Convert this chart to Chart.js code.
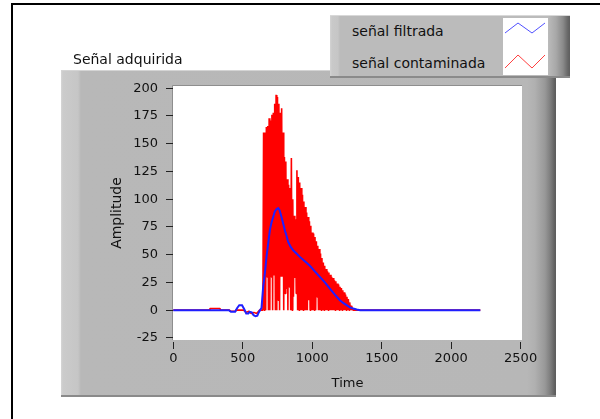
<!DOCTYPE html>
<html>
<head>
<meta charset="utf-8">
<script src="https://cdn.jsdelivr.net/npm/chart.js@4.4.1/dist/chart.umd.min.js"></script>
<style>
  html, body { margin: 0; padding: 0; background: #fff; }
  #wrap { position: relative; width: 600px; height: 419px; overflow: hidden; background: #fff; font-family: 'DejaVu Sans', sans-serif; }
  #frame { position: absolute; left: 11px; top: 3px; width: 700px; height: 500px; border-left: 2px solid #000; border-top: 2px solid #000; }
  #panel { position: absolute; left: 61px; top: 70px; width: 495px; height: 327px;
    background: linear-gradient(to right, #d6d6d6 0px, #cbcbcb 2px, #c6c6c6 17px, #b8b8b8 20px, #b7b7b7 466px, #b0b0b0 474px, #989898 484px, #7a7a7a 490px, #5e5e5e 494px, #5e5e5e 495px);
    box-shadow: inset 0 1px 0 #d4d4d4, inset 0 -2px 0 #8a8a8a; }
  #chart { position: absolute; left: 0; top: 0; }
  #title { position: absolute; left: 73px; top: 51px; font-size: 14px; line-height: 16px; color: #111; white-space: nowrap; }
  #legend { position: absolute; left: 330px; top: 15px; width: 240px; height: 63px;
    background: linear-gradient(to right, #d4d4d4 0px, #c9c9c9 2px, #c6c6c6 8px, #bbbbbb 10px, #bbbbbb 218px, #a8a8a8 226px, #8a8a8a 233px, #666 238px, #5e5e5e 240px);
    box-shadow: inset 0 1px 0 #d8d8d8, inset 0 -2px 0 #8a8a8a; }
  .lg { position: absolute; left: 22px; font-size: 14px; line-height: 16px; color: #111; white-space: nowrap; }
  #swatch { position: absolute; left: 173px; top: 3px; width: 45px; height: 57px; background: #fff; }
</style>
</head>
<body>
<div id="wrap">
  <div id="frame"></div>
  <div id="panel"></div>
  <canvas id="chart" width="600" height="419"></canvas>
  <div id="title">Señal adquirida</div>
  <div id="legend">
    <div id="lg0" class="lg" style="top:8px"></div>
    <div id="lg1" class="lg" style="top:40px"></div>
    <div id="swatch">
      <svg width="45" height="57" viewBox="0 0 45 57">
        <polyline id="sw0" fill="none" stroke-width="1" points="2,15 15,5 29,15 42,5"/>
        <polyline id="sw1" fill="none" stroke-width="1" points="2,50 15,37 29,50 42,37"/>
      </svg>
    </div>
  </div>
</div>
<script>
// ---- data ----
const seriesNames = ['señal filtrada', 'señal contaminada'];
const seriesColors = ['#1f1fff', '#ff0000'];
const swatchColors = ['#5050ff', '#ff4040'];

const xTicks = [0, 500, 1000, 1500, 2000, 2500];
const yTicks = [-25, 0, 25, 50, 75, 100, 125, 150, 175, 200];

// filtered signal (blue)
const filteredTime = [0, 400, 415, 445, 460, 475, 495, 510, 525, 540,
  550, 565, 578, 592, 605, 615, 625, 635, 647, 659,
  671, 683, 695, 707, 719, 731, 743, 755, 765, 779,
  791, 803, 815, 827, 845, 863, 887, 911, 947, 983,
  1019, 1055, 1091, 1127, 1163, 1199, 1223, 1247, 1271, 1295,
  1320, 1345, 2210];
const filteredAmp = [0, 0, -1.5, -1.5, 2, 4.5, 4.5, 1, -3, -3,
  -1.5, -2, -4.5, -5.5, -5, -2, 0, 2, 21, 33,
  48, 60, 72, 79, 84, 89, 91, 92, 90, 84,
  78, 72, 67, 61.5, 57, 54, 51, 48, 44, 40,
  35, 30, 25, 19.5, 14, 9, 6.5, 4.5, 2.5, 1.5,
  0.6, 0, 0];

// contaminated signal (red): dense oscillation between the upper and lower envelope
const noisyTime = [0, 260, 264, 336, 340, 405, 410, 445, 450, 505, 525, 545, 560, 580, 600, 620, 645,
  650, 655, 660, 665, 670, 675, 680, 685, 690, 695, 700, 705, 710, 715, 720, 725, 730, 735, 740, 745,
  750, 755, 760, 765, 770, 775, 780, 785, 790, 795, 800, 805, 810, 815, 820, 825, 830, 835, 840, 845,
  850, 855, 860, 865, 870, 875, 880, 885, 890, 895, 900, 905, 910, 915, 920, 925, 930, 935, 940, 945,
  950, 955, 960, 965, 970, 975, 980, 985, 990, 995, 1000, 1005, 1010, 1015, 1020, 1025, 1030, 1035, 1040, 1045,
  1050, 1055, 1060, 1065, 1070, 1075, 1080, 1085, 1090, 1095, 1100, 1105, 1110, 1115, 1120, 1125, 1130, 1135, 1140, 1145,
  1150, 1155, 1160, 1165, 1170, 1175, 1180, 1185, 1190, 1195, 1200, 1205, 1210, 1215, 1220, 1225, 1230, 1235, 1240, 1245,
  1250, 1255, 1260, 1265, 1270, 1275, 1280, 1285, 1290, 1295,
  1300, 2210];
const noisyAmp = [0, 0, 1.5, 1.5, 0, 0, -1, -1, 0, 0, -2, -1, -3, -2, -3, 0, 0,
  160, 0, 160, 0, 165, 30, 166, 0, 173, 0, 171, 30, 176, 0, 178, 32, 186, 0, 194, 0,
  192, 9, 186, 0, 178, 30, 182, 30, 160, 0, 138, 15, 134, 19, 118, 0, 113, 21, 110, 0,
  137, 0, 100, 12, 85, 29, 82, 15, 126, 0, 120, 0, 115, 0, 110, 0, 104, 0, 98, 0,
  93, 0, 88, 0, 84, 9, 80, 0, 76, 0, 70, 0, 69, 0, 66, 0, 62, 12, 58, 0,
  55, 0, 51, 0, 47, 0, 43, 0, 40, 0, 37, 0, 35, 0, 34, 0, 32, 0, 30, 0,
  29, 0, 27, 0, 26, 0, 24, 0, 23, 0, 21, 0, 20, 0, 18, 0, 16, 0, 14, 0,
  12, 0, 10, 0, 7, 0, 4, 0, 2, 0,
  0, 0];

// ---- legend text ----
document.getElementById('lg0').textContent = seriesNames[0];
document.getElementById('lg1').textContent = seriesNames[1];
document.getElementById('sw0').setAttribute('stroke', swatchColors[0]);
document.getElementById('sw1').setAttribute('stroke', swatchColors[1]);

const plotBg = {
  id: 'plotBg',
  beforeDraw(chart) {
    const { ctx, chartArea: a } = chart;
    ctx.save();
    ctx.fillStyle = '#ffffff';
    ctx.fillRect(a.left, a.top, a.right - a.left, a.bottom - a.top);
    ctx.strokeStyle = '#8e8e8e';
    ctx.lineWidth = 1;
    ctx.beginPath();
    ctx.moveTo(a.left - 0.5, a.bottom);
    ctx.lineTo(a.left - 0.5, a.top - 0.5);
    ctx.lineTo(a.right, a.top - 0.5);
    ctx.stroke();
    ctx.restore();
  }
};

const font13 = { family: 'DejaVu Sans', size: 13 };
const textColor = '#111111';

new Chart(document.getElementById('chart').getContext('2d'), {
  type: 'line',
  data: {
    datasets: [
      {
        label: seriesNames[0],
        data: filteredTime.map((t, i) => ({ x: t, y: filteredAmp[i] })),
        borderColor: seriesColors[0],
        borderWidth: 2,
        pointRadius: 0,
        tension: 0,
        order: 0
      },
      {
        label: seriesNames[1],
        data: noisyTime.map((t, i) => ({ x: t, y: noisyAmp[i] })),
        borderColor: seriesColors[1],
        borderWidth: 1.6,
        borderJoinStyle: 'bevel',
        pointRadius: 0,
        tension: 0,
        order: 1
      }
    ]
  },
  options: {
    responsive: false,
    animation: false,
    events: [],
    layout: { padding: { left: 61, top: 86, right: 78, bottom: 22 } },
    plugins: { legend: { display: false }, tooltip: { enabled: false } },
    scales: {
      x: {
        type: 'linear',
        min: -2,
        max: 2510,
        afterBuildTicks: s => { s.ticks = xTicks.map(v => ({ value: v })); },
        afterFit: s => { s.height = 57; },
        ticks: { autoSkip: false, maxRotation: 0, minRotation: 0, padding: 2, color: textColor, font: font13,
                 callback: v => String(v) },
        grid: { drawOnChartArea: false, tickLength: 9, tickColor: '#222', tickWidth: 1, tickBorderDash: [0, 2, 7, 30] },
        border: { display: false },
        title: { display: true, text: 'Time', color: textColor, font: font13, padding: { top: 0, bottom: 6 } }
      },
      y: {
        type: 'linear',
        min: -26.9,
        max: 202,
        afterBuildTicks: s => { s.ticks = yTicks.map(v => ({ value: v })); },
        afterFit: s => { s.width = 112; },
        ticks: { autoSkip: false, padding: 5, color: textColor, font: font13, callback: v => String(v) },
        grid: { drawOnChartArea: false, tickLength: 10, tickColor: '#222', tickWidth: 1, tickBorderDash: [0, 3, 7, 30] },
        border: { display: false },
        title: { display: true, text: 'Amplitude', color: textColor, font: { family: 'DejaVu Sans', size: 14 }, padding: { top: 48, bottom: 0 } }
      }
    }
  },
  plugins: [plotBg]
});
</script>
</body>
</html>
